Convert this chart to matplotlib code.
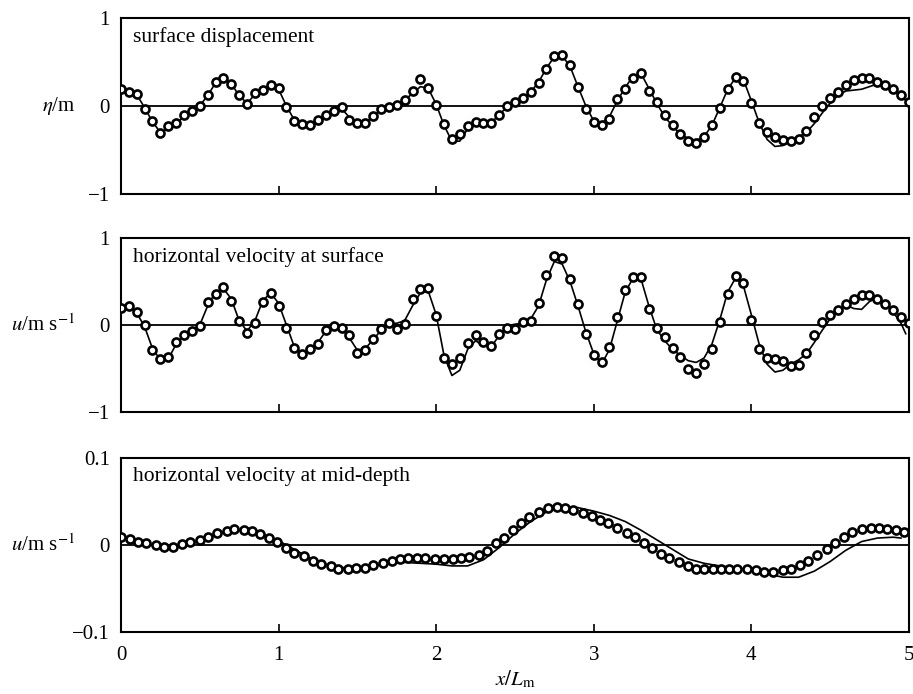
import numpy as np
import matplotlib
matplotlib.use("Agg")
import matplotlib.pyplot as plt

plt.rcParams['font.family'] = ['Liberation Serif', 'DejaVu Serif']
plt.rcParams['mathtext.fontset'] = 'stix'

# common sampling grid (x / L_m) for panels 1 and 2
x_grid = np.round(np.arange(0, 5.001, 0.05), 2)

# panel 1: surface displacement (m)
eta_meas = [0.19, 0.16, 0.14, -0.03, -0.17, -0.31, -0.23, -0.19, -0.10, -0.06,
            0.00, 0.13, 0.27, 0.32, 0.25, 0.13, 0.02, 0.15, 0.18, 0.24,
            0.20, -0.01, -0.17, -0.21, -0.22, -0.16, -0.10, -0.06, -0.01, -0.16,
            -0.19, -0.19, -0.11, -0.03, -0.01, 0.01, 0.07, 0.17, 0.31, 0.20,
            0.01, -0.20, -0.37, -0.32, -0.23, -0.18, -0.19, -0.19, -0.10, 0.00,
            0.04, 0.09, 0.16, 0.26, 0.42, 0.57, 0.58, 0.46, 0.21, -0.03,
            -0.18, -0.22, -0.15, 0.08, 0.19, 0.32, 0.37, 0.17, 0.04, -0.10,
            -0.22, -0.32, -0.40, -0.42, -0.35, -0.22, -0.02, 0.19, 0.33, 0.28,
            0.03, -0.19, -0.30, -0.35, -0.39, -0.40, -0.37, -0.28, -0.12, 0.00,
            0.09, 0.16, 0.24, 0.29, 0.32, 0.32, 0.27, 0.24, 0.19, 0.12, 0.04]
eta_model = [0.20, 0.17, 0.13, -0.02, -0.18, -0.30, -0.26, -0.20, -0.12, -0.06,
             0.00, 0.12, 0.26, 0.32, 0.25, 0.12, 0.03, 0.13, 0.19, 0.23,
             0.19, 0.00, -0.16, -0.22, -0.22, -0.17, -0.10, -0.05, -0.03, -0.13,
             -0.19, -0.19, -0.12, -0.04, -0.01, 0.02, 0.07, 0.14, 0.22, 0.20,
             0.02, -0.22, -0.40, -0.40, -0.26, -0.20, -0.20, -0.19, -0.10, -0.01,
             0.04, 0.09, 0.16, 0.27, 0.43, 0.56, 0.57, 0.45, 0.22, 0.00,
             -0.17, -0.20, -0.12, 0.06, 0.21, 0.34, 0.37, 0.20, 0.03, -0.12,
             -0.23, -0.32, -0.37, -0.39, -0.35, -0.22, -0.02, 0.19, 0.32, 0.30,
             0.06, -0.19, -0.38, -0.46, -0.45, -0.40, -0.35, -0.30, -0.20, -0.08,
             0.03, 0.12, 0.17, 0.18, 0.19, 0.22, 0.25, 0.24, 0.18, 0.10, 0.04]

# panel 2: horizontal velocity at surface (m/s)
us_meas = [0.20, 0.22, 0.15, 0.00, -0.29, -0.39, -0.37, -0.19, -0.11, -0.07,
           -0.01, 0.26, 0.36, 0.44, 0.28, 0.05, -0.09, 0.02, 0.26, 0.37,
           0.22, -0.03, -0.26, -0.33, -0.27, -0.22, -0.06, -0.01, -0.03, -0.12,
           -0.32, -0.29, -0.16, -0.05, 0.02, -0.04, 0.01, 0.30, 0.41, 0.42,
           0.10, -0.38, -0.45, -0.38, -0.21, -0.11, -0.19, -0.24, -0.10, -0.03,
           -0.04, 0.03, 0.05, 0.25, 0.58, 0.79, 0.77, 0.53, 0.24, -0.10,
           -0.35, -0.43, -0.25, 0.09, 0.40, 0.55, 0.55, 0.18, -0.03, -0.14,
           -0.26, -0.37, -0.50, -0.55, -0.45, -0.28, 0.04, 0.36, 0.56, 0.48,
           0.06, -0.27, -0.38, -0.39, -0.41, -0.47, -0.46, -0.32, -0.11, 0.03,
           0.12, 0.17, 0.24, 0.30, 0.34, 0.34, 0.30, 0.24, 0.17, 0.09, 0.02]
xl_surf = list(x_grid[:-1]) + [4.98]  # model line stops just short of x=5
us_model = [0.21, 0.21, 0.14, -0.02, -0.27, -0.40, -0.39, -0.22, -0.12, -0.07,
            0.00, 0.22, 0.38, 0.42, 0.30, 0.05, -0.07, 0.05, 0.28, 0.37,
            0.25, 0.00, -0.25, -0.32, -0.28, -0.20, -0.07, -0.02, -0.04, -0.15,
            -0.29, -0.27, -0.17, -0.06, 0.02, 0.02, 0.05, 0.22, 0.37, 0.39,
            0.12, -0.35, -0.58, -0.52, -0.28, -0.18, -0.24, -0.25, -0.12, -0.01,
            0.01, 0.02, 0.07, 0.22, 0.52, 0.73, 0.70, 0.50, 0.22, -0.08,
            -0.33, -0.45, -0.28, 0.05, 0.38, 0.54, 0.53, 0.22, -0.05, -0.18,
            -0.28, -0.35, -0.41, -0.43, -0.38, -0.22, 0.06, 0.38, 0.54, 0.45,
            0.12, -0.22, -0.45, -0.54, -0.52, -0.45, -0.40, -0.33, -0.20, -0.06,
            0.07, 0.17, 0.23, 0.19, 0.18, 0.27, 0.31, 0.26, 0.15, 0.02, -0.10]

# panel 3: horizontal velocity at mid-depth (m/s)
xm_mid = [0.00, 0.06, 0.11, 0.16, 0.22, 0.27, 0.33, 0.39, 0.44, 0.50, 0.55, 0.61, 0.67,
          0.72, 0.78, 0.83, 0.88, 0.94, 0.99, 1.05, 1.10, 1.16, 1.22, 1.27, 1.33, 1.38,
          1.44, 1.49, 1.55, 1.60, 1.66, 1.72, 1.77, 1.82, 1.88, 1.93, 1.99, 2.05, 2.11,
          2.16, 2.21, 2.27, 2.32, 2.38, 2.43, 2.49, 2.54, 2.59, 2.65, 2.71, 2.77, 2.82,
          2.87, 2.93, 2.99, 3.04, 3.09, 3.15, 3.21, 3.26, 3.32, 3.37, 3.43, 3.48, 3.54,
          3.60, 3.65, 3.70, 3.76, 3.81, 3.86, 3.91, 3.97, 4.03, 4.08, 4.14, 4.20, 4.25,
          4.31, 4.36, 4.42, 4.48, 4.53, 4.59, 4.64, 4.70, 4.76, 4.81, 4.86, 4.92, 4.97]
um_meas = [0.009, 0.007, 0.004, 0.002, 0.000, -0.002, -0.002, 0.001, 0.003, 0.006,
           0.009, 0.014, 0.016, 0.018, 0.017, 0.016, 0.013, 0.008, 0.004,
           -0.003, -0.009, -0.013, -0.018, -0.022, -0.024, -0.027, -0.027, -0.026,
           -0.026, -0.023, -0.021, -0.018, -0.016, -0.015, -0.015, -0.015, -0.016,
           -0.016, -0.016, -0.015, -0.014, -0.011, -0.007, 0.002, 0.008, 0.017,
           0.025, 0.032, 0.038, 0.042, 0.044, 0.043, 0.040, 0.037, 0.033,
           0.029, 0.025, 0.020, 0.014, 0.009, 0.002, -0.003, -0.010, -0.015,
           -0.020, -0.024, -0.027, -0.028, -0.028, -0.028, -0.027, -0.027, -0.028,
           -0.029, -0.031, -0.031, -0.029, -0.027, -0.023, -0.018, -0.012, -0.004,
           0.002, 0.009, 0.015, 0.018, 0.020, 0.020, 0.019, 0.017, 0.015]
xl_mid = [0.0, 0.1, 0.2, 0.3, 0.4, 0.5, 0.6, 0.7, 0.8, 0.9, 1.0, 1.1, 1.2, 1.3, 1.4,
          1.5, 1.6, 1.7, 1.8, 1.9, 2.0, 2.1, 2.2, 2.3, 2.4, 2.5, 2.6, 2.7, 2.8, 2.9,
          3.0, 3.1, 3.2, 3.3, 3.4, 3.5, 3.6, 3.7, 3.8, 3.9, 4.0, 4.1, 4.2, 4.3, 4.4,
          4.5, 4.6, 4.7, 4.8, 4.9, 4.95]
um_model = [0.009, 0.005, 0.000, -0.003, -0.001, 0.005, 0.012, 0.017, 0.017, 0.012,
            0.005, -0.005, -0.015, -0.022, -0.026, -0.026, -0.024, -0.021, -0.020,
            -0.021, -0.022, -0.024, -0.024, -0.017, -0.003, 0.013, 0.027, 0.038,
            0.044, 0.043, 0.039, 0.034, 0.027, 0.017, 0.006, -0.005, -0.016, -0.021,
            -0.024, -0.026, -0.029, -0.033, -0.037, -0.037, -0.030, -0.019, -0.006,
            0.004, 0.008, 0.009, 0.008]

titles = ["surface displacement", "horizontal velocity at surface",
          "horizontal velocity at mid-depth"]
ylabels = [r"$\eta$/m", r"$u$/m s$^{-1}$", r"$u$/m s$^{-1}$"]
ylims = [1.0, 1.0, 0.1]
yticklabels = [["\u22121", "0", "1"], ["\u22121", "0", "1"], ["\u22120.1", "0", "0.1"]]

panels = [(x_grid, eta_meas, x_grid, eta_model),
          (x_grid, us_meas, xl_surf, us_model),
          (xm_mid, um_meas, xl_mid, um_model)]

fig = plt.figure(figsize=(9.13, 6.94), dpi=100)
boxes = [[0.1325, 0.7205, 0.863, 0.2536],
         [0.1325, 0.4063, 0.863, 0.2507],
         [0.1325, 0.0893, 0.863, 0.2507]]

for i, (xm, ym, xl, yl) in enumerate(panels):
    ax = fig.add_axes(boxes[i])
    lim = ylims[i]
    ax.axhline(0, color='black', lw=1.3, zorder=1)
    ax.plot(xl, yl, color='black', lw=1.2, zorder=2)
    ax.plot(xm, ym, linestyle='none', marker='o', ms=5.8, mfc='white',
            mec='black', mew=1.9, zorder=3)
    ax.set_xlim(0, 5)
    ax.set_ylim(-lim, lim)
    ax.set_yticks([-lim, 0, lim])
    ax.set_yticklabels(yticklabels[i])
    ax.set_xticks([1, 2, 3, 4] if i < 2 else [0, 1, 2, 3, 4, 5])
    ax.tick_params(axis='y', length=0, pad=8, labelsize=15)
    ax.tick_params(axis='x', direction='in', length=6, width=1.2, labelsize=15,
                   top=False, pad=10)
    if i < 2:
        ax.set_xticklabels([])
    for s in ax.spines.values():
        s.set_linewidth(1.5)
    ax.text(0.015, 0.95, titles[i], transform=ax.transAxes, ha='left', va='top',
            fontsize=15.5)
    ax.text(-0.058, 0.5, ylabels[i], transform=ax.transAxes, ha='right',
            va='center', fontsize=15)
    if i == 2:
        ax.set_xlabel(r"$x/L_\mathrm{m}$", fontsize=15, labelpad=3)

fig.savefig("out.png", dpi=100)
